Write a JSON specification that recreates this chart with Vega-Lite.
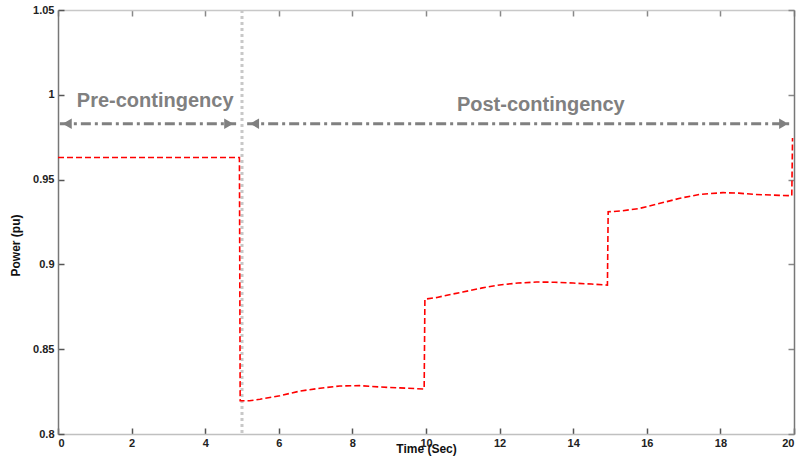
{
  "$schema": "https://vega.github.io/schema/vega-lite/v6.json",
  "width": 736,
  "height": 424,
  "autosize": {"type": "none"},
  "padding": {"left": 58, "top": 10, "right": 5, "bottom": 32},
  "background": "white",
  "config": {
    "view": {"stroke": null},
    "font": "Liberation Sans",
    "axis": {"grid": false, "labelFont": "Liberation Sans", "labelFontWeight": "bold", "labelFontSize": 11, "labelColor": "#222", "titleFont": "Liberation Sans", "titleFontWeight": "bold", "titleFontSize": 12, "titleColor": "#111", "tickColor": "#555", "tickSize": -6, "tickWidth": 1.5}
  },
  "datasets": {
    "power": [
      {"t": 0, "p": 0.963}, {"t": 4.93, "p": 0.963}, {"t": 4.95, "p": 0.8196},
      {"t": 5.2, "p": 0.8196}, {"t": 5.49, "p": 0.8205}, {"t": 6.03, "p": 0.8226},
      {"t": 6.58, "p": 0.8253}, {"t": 7.12, "p": 0.827}, {"t": 7.66, "p": 0.8283},
      {"t": 8.2, "p": 0.8285}, {"t": 8.75, "p": 0.8277}, {"t": 9.29, "p": 0.8272},
      {"t": 9.95, "p": 0.8265}, {"t": 9.97, "p": 0.8795}, {"t": 10.3, "p": 0.8805},
      {"t": 10.6, "p": 0.882}, {"t": 11, "p": 0.8837}, {"t": 11.5, "p": 0.886},
      {"t": 12, "p": 0.8879}, {"t": 12.5, "p": 0.889}, {"t": 13, "p": 0.8896},
      {"t": 13.5, "p": 0.8895}, {"t": 14, "p": 0.889}, {"t": 14.5, "p": 0.8884},
      {"t": 14.93, "p": 0.8878}, {"t": 14.95, "p": 0.931}, {"t": 15.3, "p": 0.9315},
      {"t": 15.8, "p": 0.933}, {"t": 16.36, "p": 0.936}, {"t": 16.9, "p": 0.939},
      {"t": 17.45, "p": 0.9413}, {"t": 18.07, "p": 0.9423}, {"t": 18.5, "p": 0.942},
      {"t": 18.9, "p": 0.9413}, {"t": 19.6, "p": 0.9407}, {"t": 19.94, "p": 0.9405},
      {"t": 19.96, "p": 0.9745}
    ],
    "arrows": [
      {"x1": 0.05, "x2": 4.84, "y": 0.983},
      {"x1": 5.14, "x2": 19.92, "y": 0.983}
    ],
    "heads": [
      {"x": 0.25, "y": 0.983, "s": "triangle-left"},
      {"x": 4.64, "y": 0.983, "s": "triangle-right"},
      {"x": 5.34, "y": 0.983, "s": "triangle-left"},
      {"x": 19.72, "y": 0.983, "s": "triangle-right"}
    ],
    "labels": [
      {"x": 2.64, "y": 0.9963, "text": "Pre-contingency"},
      {"x": 13.12, "y": 0.994, "text": "Post-contingency"}
    ],
    "frame": [{"x": 0, "y": 0.8}],
    "event": [{"x": 5}]
  },
  "resolve": {"axis": {"x": "independent", "y": "independent"}},
  "layer": [
    {
      "data": {"name": "frame"},
      "mark": {"type": "point", "opacity": 0},
      "encoding": {
        "x": {"field": "x", "type": "quantitative", "scale": {"domain": [0, 20], "nice": false, "zero": false},
          "axis": {"orient": "top", "labels": false, "title": null, "domainColor": "#c8c8c8", "domainWidth": 1.5, "values": [0,2,4,6,8,10,12,14,16,18,20], "tickColor": "#888"}},
        "y": {"field": "y", "type": "quantitative", "scale": {"domain": [0.8, 1.05], "nice": false, "zero": false},
          "axis": {"orient": "right", "labels": false, "title": null, "domainColor": "#777", "domainWidth": 1.5, "values": [0.8,0.85,0.9,0.95,1,1.05], "tickColor": "#888"}}
      }
    },
    {
      "data": {"name": "event"},
      "mark": {"type": "rule", "color": "#c8c8c8", "strokeWidth": 3, "strokeDash": [3, 3]},
      "encoding": {
        "x": {"field": "x", "type": "quantitative", "scale": {"domain": [0, 20], "nice": false, "zero": false},
          "axis": {"orient": "bottom", "title": "Time (Sec)", "titlePadding": -5, "labelPadding": 9, "domainColor": "#c0c0c0", "domainWidth": 1.5, "values": [0,2,4,6,8,10,12,14,16,18,20]}}
      }
    },
    {
      "data": {"name": "power"},
      "mark": {"type": "line", "color": "#ff0000", "strokeWidth": 1.6, "strokeDash": [6, 3]},
      "encoding": {
        "x": {"field": "t", "type": "quantitative", "axis": null},
        "y": {"field": "p", "type": "quantitative", "scale": {"domain": [0.8, 1.05], "nice": false, "zero": false},
          "axis": {"orient": "left", "title": "Power (pu)", "format": ".3~g", "titlePadding": 10, "titleY": 235, "labelPadding": 10, "domainColor": "#777", "domainWidth": 1.5, "values": [0.8,0.85,0.9,0.95,1,1.05]}}
      }
    },
    {
      "data": {"name": "arrows"},
      "mark": {"type": "rule", "color": "#808080", "strokeWidth": 3, "strokeDash": [10, 4, 3, 4]},
      "encoding": {
        "x": {"field": "x1", "type": "quantitative", "axis": null},
        "x2": {"field": "x2"},
        "y": {"field": "y", "type": "quantitative", "axis": null}
      }
    },
    {
      "data": {"name": "heads"},
      "mark": {"type": "point", "filled": true, "color": "#808080", "opacity": 1, "size": 110},
      "encoding": {
        "x": {"field": "x", "type": "quantitative", "axis": null},
        "y": {"field": "y", "type": "quantitative", "axis": null},
        "shape": {"field": "s", "type": "nominal", "scale": null, "legend": null}
      }
    },
    {
      "data": {"name": "labels"},
      "mark": {"type": "text", "font": "Liberation Sans", "fontWeight": "bold", "fontSize": 20, "color": "#808080", "align": "center", "baseline": "middle"},
      "encoding": {
        "x": {"field": "x", "type": "quantitative", "axis": null},
        "y": {"field": "y", "type": "quantitative", "axis": null},
        "text": {"field": "text"}
      }
    }
  ]
}
